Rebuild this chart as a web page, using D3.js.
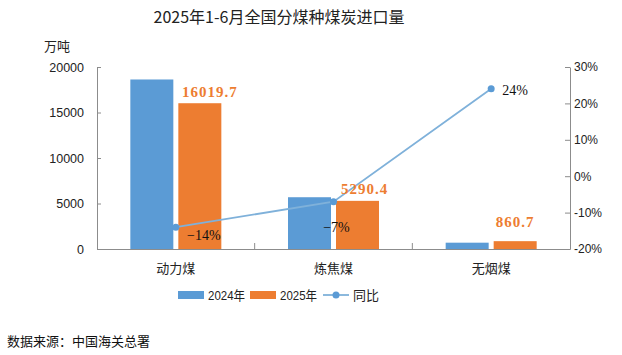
<!DOCTYPE html>
<html><head><meta charset="utf-8">
<script src="https://cdn.jsdelivr.net/npm/d3@7"></script>
<style>body{margin:0;background:#fff}svg{display:block}</style>
</head><body>
<svg id="c" width="622" height="355"></svg>
<script>
const categories = ["动力煤", "炼焦煤", "无烟煤"];
const v2024 = [18628, 5689, 694];
const v2025 = [16019.7, 5290.4, 860.7];
const yoy = [-14, -7, 24];
const leftTicks = [0, 5000, 10000, 15000, 20000];
const rightTicks = [-20, -10, 0, 10, 20, 30];
const seriesNames = ["2024年", "2025年", "同比"];
const title = "2025年1-6月全国分煤种煤炭进口量";
const unit = "万吨";
const source = "数据来源：中国海关总署";

const blue = "#5b9bd5", orange = "#ed7d31", lineC = "#7fb1da", axisC = "#8c8c8c";
const svg = d3.select("#c");
const L = 97, R = 570, T = 67, B = 249;
const sans = "'Liberation Sans', Arial, 'Noto Sans CJK SC', sans-serif";
const cjk = "'Noto Sans CJK SC', sans-serif";
const serif = "'Liberation Serif', 'DejaVu Serif', serif";

const x = d3.scaleBand().domain(categories).range([L, R]);
const y = d3.scaleLinear().domain([0, 20000]).range([B, T]);
const y2 = d3.scaleLinear().domain([-20, 30]).range([B, T]);

svg.append("text").attr("x", 279).attr("y", 23).attr("text-anchor", "middle")
  .attr("font-family", cjk).attr("font-size", 16).attr("fill", "#222").text(title);
svg.append("text").attr("x", 57).attr("y", 51).attr("text-anchor", "middle")
  .attr("font-family", cjk).attr("font-size", 13).attr("fill", "#222").text(unit);

// left axis
const gl = svg.append("g").attr("transform", `translate(${L},0)`)
  .call(d3.axisRight(y).tickValues(leftTicks).tickSize(4).tickSizeOuter(0).tickFormat(d3.format("d")));
gl.select(".domain").attr("stroke", axisC);
gl.selectAll(".tick line").attr("stroke", axisC);
gl.selectAll(".tick text").attr("x", -13).attr("text-anchor", "end")
  .attr("font-family", sans).attr("font-size", 12.5).attr("fill", "#222");

// right axis
const gr = svg.append("g").attr("transform", `translate(${R},0)`)
  .call(d3.axisLeft(y2).tickValues(rightTicks).tickSize(5).tickSizeOuter(0).tickFormat(d => d + "%"));
gr.select(".domain").attr("stroke", axisC);
gr.selectAll(".tick line").attr("stroke", axisC);
gr.selectAll(".tick text").attr("x", 4).attr("text-anchor", "start")
  .attr("font-family", sans).attr("font-size", 12).attr("fill", "#222");

// bottom axis
const gb = svg.append("g").attr("transform", `translate(0,${B})`)
  .call(d3.axisBottom(x).tickSize(0).tickSizeOuter(0));
gb.select(".domain").attr("stroke", axisC);
gb.selectAll(".tick text").attr("dy", 0).attr("y", 24)
  .attr("font-family", cjk).attr("font-size", 13).attr("fill", "#222");
svg.selectAll(".sep").data(categories.slice(1)).enter().append("line")
  .attr("x1", d => x(d)).attr("x2", d => x(d)).attr("y1", B).attr("y2", B - 6)
  .attr("stroke", axisC);

const bw = 43, gap = 5;
const cx = d => x(d) + x.bandwidth() / 2;
svg.selectAll(".b24").data(categories).enter().append("rect")
  .attr("x", d => cx(d) - gap / 2 - bw).attr("width", bw)
  .attr("y", (d, i) => y(v2024[i])).attr("height", (d, i) => B - y(v2024[i]))
  .attr("fill", blue);
svg.selectAll(".b25").data(categories).enter().append("rect")
  .attr("x", d => cx(d) + gap / 2).attr("width", bw)
  .attr("y", (d, i) => y(v2025[i])).attr("height", (d, i) => B - y(v2025[i]))
  .attr("fill", orange);

// line
const line = d3.line().x((d, i) => cx(categories[i])).y(d => y2(d));
svg.append("path").attr("d", line(yoy)).attr("fill", "none").attr("stroke", lineC).attr("stroke-width", 1.8);
svg.selectAll(".pt").data(yoy).enter().append("circle")
  .attr("cx", (d, i) => cx(categories[i])).attr("cy", d => y2(d)).attr("r", 3.5).attr("fill", blue);

// value labels
const vdx = [34, 31, 24], vdy = [-6, -7, -14];
svg.selectAll(".vl").data(v2025).enter().append("text")
  .attr("x", (d, i) => cx(categories[i]) + vdx[i]).attr("y", (d, i) => y(d) + vdy[i])
  .attr("text-anchor", "middle").attr("font-family", serif).attr("font-weight", "bold")
  .attr("font-size", 15).attr("letter-spacing", 1).attr("fill", orange).text(d => d.toFixed(1));
const pdx = [28, 3, 24], pdy = [13, 30, 6];
svg.selectAll(".pl").data(yoy).enter().append("text")
  .attr("x", (d, i) => cx(categories[i]) + pdx[i]).attr("y", (d, i) => y2(d) + pdy[i])
  .attr("text-anchor", "middle").attr("font-family", serif)
  .attr("font-size", 14).attr("fill", "#111").text(d => (d < 0 ? "−" + Math.abs(d) : d) + "%");

// legend
const lg = svg.append("g").attr("font-family", sans).attr("font-size", 13).attr("fill", "#222");
lg.append("rect").attr("x", 178).attr("y", 291).attr("width", 26).attr("height", 8).attr("fill", blue);
lg.append("text").attr("x", 208).attr("y", 300).attr("textLength", 37).attr("lengthAdjust", "spacingAndGlyphs").text(seriesNames[0]);
lg.append("rect").attr("x", 250).attr("y", 291).attr("width", 26).attr("height", 8).attr("fill", orange);
lg.append("text").attr("x", 280).attr("y", 300).attr("textLength", 37).attr("lengthAdjust", "spacingAndGlyphs").text(seriesNames[1]);
lg.append("line").attr("x1", 323).attr("x2", 349).attr("y1", 295).attr("y2", 295).attr("stroke", lineC).attr("stroke-width", 1.8);
lg.append("circle").attr("cx", 336).attr("cy", 295).attr("r", 3.5).attr("fill", blue);
lg.append("text").attr("x", 353).attr("y", 300).attr("font-family", cjk).text(seriesNames[2]);

svg.append("text").attr("x", 7).attr("y", 346).attr("font-family", cjk).attr("font-size", 13)
  .attr("fill", "#111").text(source);
</script>
</body></html>
